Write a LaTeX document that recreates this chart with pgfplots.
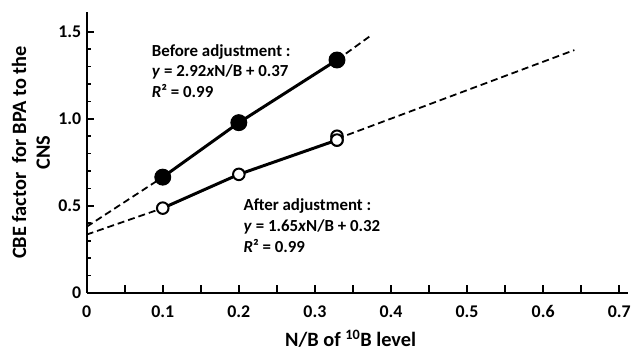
\documentclass[border=0pt]{standalone}
\usepackage{fontspec}
\setmainfont{Carlito}
\usepackage{pgfplots}
\pgfplotsset{compat=1.18}
\begin{document}
\begin{tikzpicture}
\begin{axis}[
  scale only axis, width=543bp, height=282bp,
  xmin=0, xmax=0.711, ymin=0, ymax=1.614,
  axis x line*=bottom, axis y line*=left,
  axis line style={line width=2pt},
  every tick/.style={line width=1.7pt, black},
  tick align=inside,
  major tick length=7.5bp, minor tick length=4.5bp,
  xtick={0,0.05,0.1,0.15,0.2,0.25,0.3,0.35,0.4,0.45,0.5,0.55,0.6,0.65,0.7},
  xticklabels={0,,0.1,,0.2,,0.3,,0.4,,0.5,,0.6,,0.7},
  ytick={0,0.5,1,1.5},
  yticklabels={0,0.5,1.0,1.5},
  minor ytick={0.1,0.2,0.3,0.4,0.6,0.7,0.8,0.9,1.1,1.2,1.3,1.4},
  /pgf/number format/assume math mode=true,
  tick label style={font=\fontsize{18}{20}\selectfont\bfseries},
  xticklabel style={yshift=-9bp},
  yticklabel style={xshift=-2bp},
  xlabel={N/B of \textsuperscript{10}B level},
  ylabel={CBE factor\ \ for BPA to the\\CNS},
  label style={font=\fontsize{20.5}{24}\selectfont\bfseries},
  ylabel style={align=center, anchor=center, at={(axis description cs:-0.103,0.5)}},
  xlabel style={anchor=center, at={(axis description cs:0.488,-0.163)}},
  clip=false,
]
% dashed regression lines (outside the data range)
\addplot[black, line width=1.8pt, dash pattern=on 7bp off 4bp] coordinates {(0,0.38) (0.1,0.665)};
\addplot[black, line width=1.8pt, dash pattern=on 7bp off 4bp] coordinates {(0.329,1.338) (0.374,1.48)};
\addplot[black, line width=1.8pt, dash pattern=on 7bp off 4bp] coordinates {(0,0.335) (0.1,0.487)};
\addplot[black, line width=1.8pt, dash pattern=on 7bp off 4bp] coordinates {(0.329,0.885) (0.641,1.395)};
% before adjustment
\addplot[black, line width=3pt, mark=*, mark size=8bp, mark options={solid, fill=black, line width=1pt}] coordinates {(0.1,0.665) (0.2,0.978) (0.329,1.338)};
% after adjustment
\addplot[black, line width=3pt, mark=*, mark size=5.8bp, mark options={solid, fill=white, line width=2pt}] coordinates {(0.1,0.487) (0.2,0.681) (0.329,0.878)};
\addplot[only marks, black, mark=*, mark size=5.8bp, mark options={solid, fill=white, line width=2pt}] coordinates {(0.329,0.90)};
\addplot[only marks, black, mark=*, mark size=5.8bp, mark options={solid, fill=white, line width=2pt}] coordinates {(0.329,0.878)};
\node[anchor=north west, align=left, inner sep=0pt, font=\fontsize{17}{21}\selectfont\bfseries] at (axis cs:0.0855,1.43)
  {Before adjustment :\\\textit{y} = 2.92\textit{x}N/B + 0.37\\\textit{R}² = 0.99};
\node[anchor=north west, align=left, inner sep=0pt, font=\fontsize{17}{21}\selectfont\bfseries] at (axis cs:0.206,0.54)
  {After adjustment :\\\textit{y} = 1.65\textit{x}N/B + 0.32\\\textit{R}² = 0.99};
\coordinate (bl) at (rel axis cs:0,0);
\coordinate (tr) at (rel axis cs:1,1);
\end{axis}
\path ([shift={(-87bp,-55bp)}]bl) rectangle ([shift={(4bp,12bp)}]tr);
\end{tikzpicture}
\end{document}
